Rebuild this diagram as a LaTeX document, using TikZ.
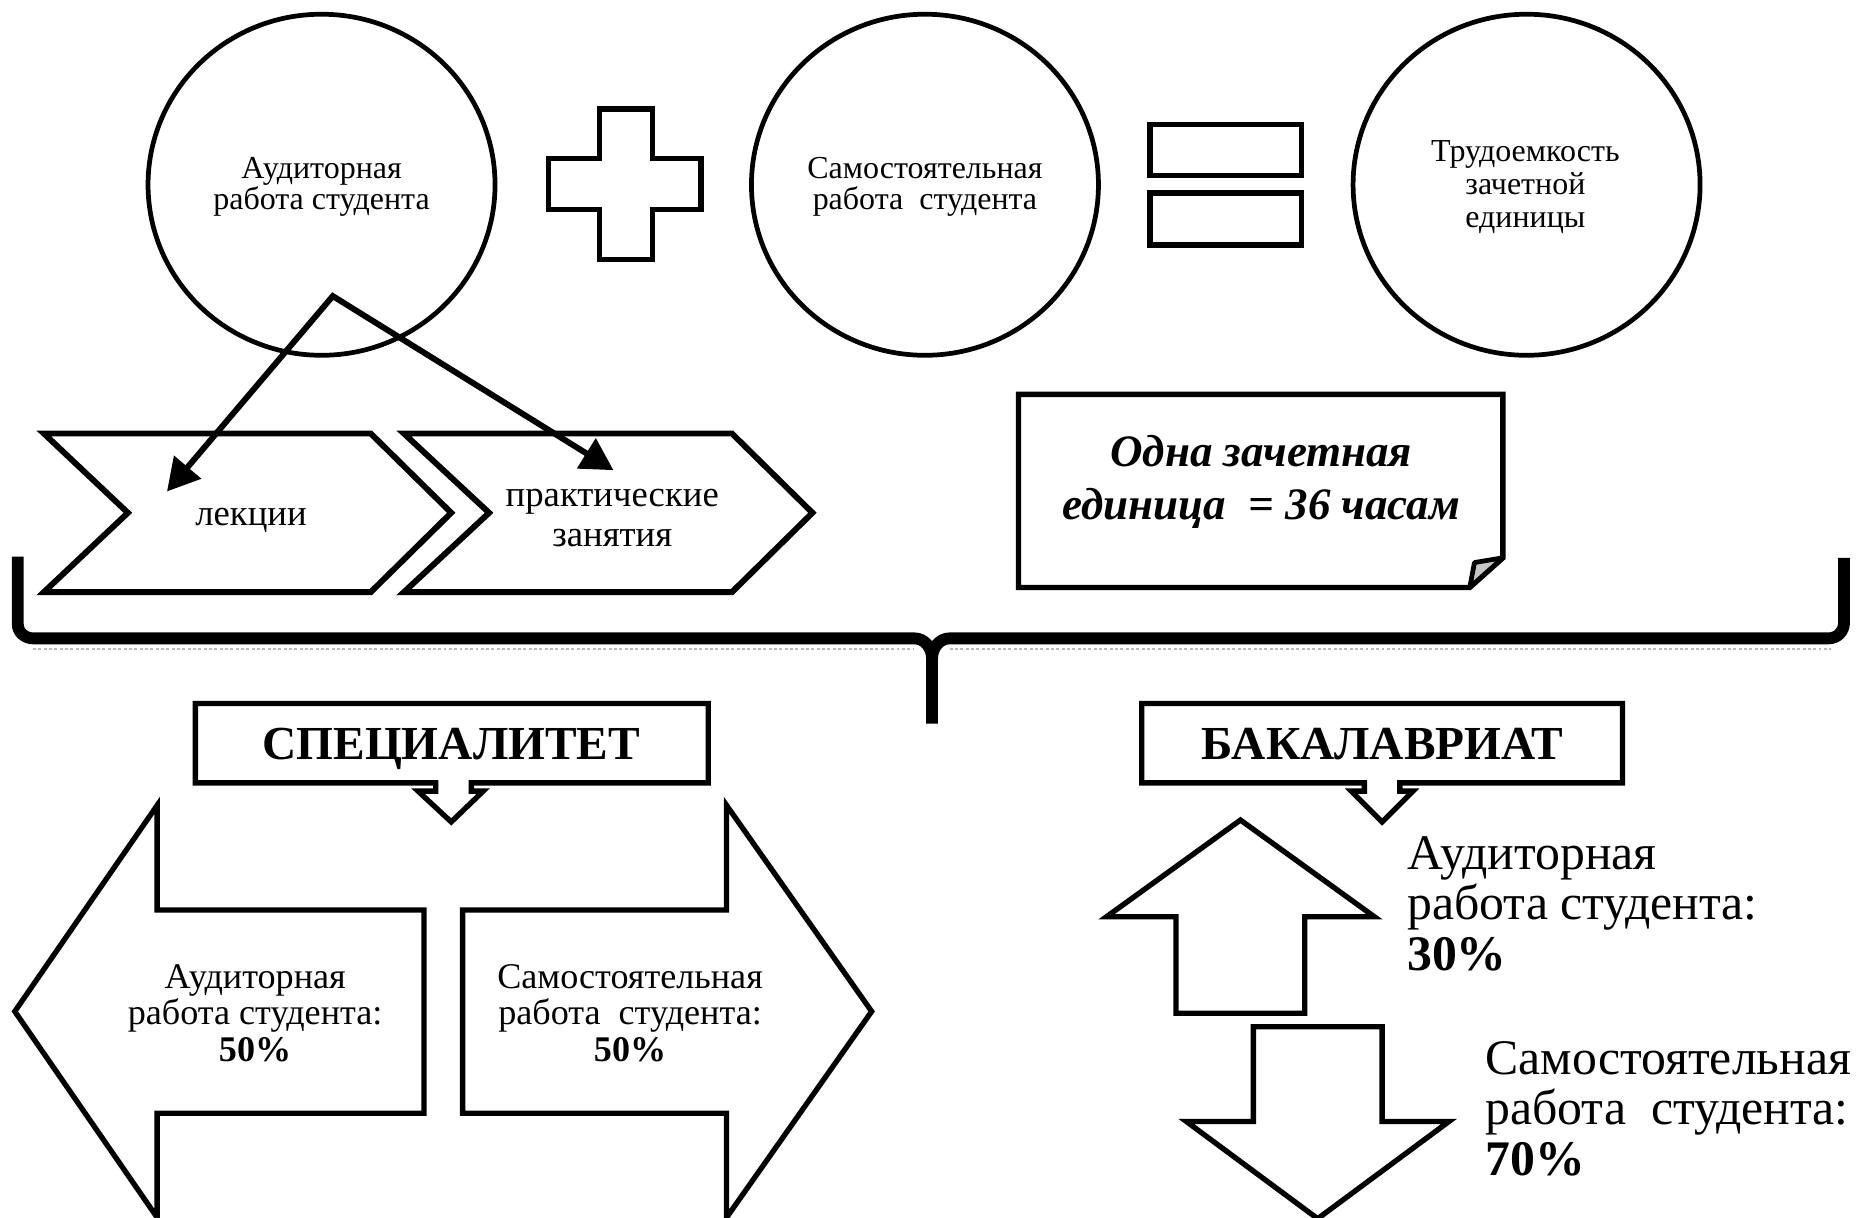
\documentclass[tikz,border=0pt]{standalone}
\usepackage{fontspec}
\setmainfont{Liberation Serif}
\usetikzlibrary{shapes.geometric,arrows.meta}
\begin{document}
\begin{tikzpicture}[x=1pt,y=-1pt,
  outl/.style={draw=black, line width=4.5pt, line join=miter, fill=white},
  circ/.style={draw, ellipse, line width=4pt, minimum width=293pt, minimum height=288pt, inner sep=0pt, align=center, font=\fontsize{27}{26.5}\selectfont},
  chevtext/.style={inner sep=0pt, align=center, font=\fontsize{31}{34}\selectfont},
  notetext/.style={inner sep=0pt, align=center, font=\fontsize{38}{45}\selectfont\bfseries\itshape},
  hdr/.style={inner sep=0pt, anchor=base, font=\fontsize{40}{42}\selectfont\bfseries},
  spectext/.style={inner sep=0pt, align=center, font=\fontsize{30.5}{31}\selectfont},
  bachtext/.style={inner sep=0pt, align=left, anchor=west, font=\fontsize{42}{42.5}\selectfont},
  conn/.style={line width=5pt, line join=miter, {Triangle[length=27pt,width=29pt]}-{Triangle[length=27pt,width=29pt]}},
  brace/.style={line width=10pt, line join=round}
]
\useasboundingbox (0,0) rectangle (1568,1028);
\fill[white] (0,0) rectangle (1568,1028);

% top row
\node[circ] (c1) at (271.5,156) {};
\node[circ, draw=none] (c1t) at (271.5,158) {Аудиторная\\работа студента};
\node[circ] (c2) at (781,156) {};
\node[circ, draw=none] (c2t) at (781,158) {Самостоятельная\\работа\ \ студента};
\node[circ] (c3) at (1289,156) {};
\node[circ, draw=none, font=\fontsize{27}{27.5}\selectfont] (c3t) at (1288,158) {Трудоемкость\\зачетной\\единицы};

% plus
\draw[outl] (506,92) -- (551,92) -- (551,134) -- (592,134) -- (592,177) -- (551,177) -- (551,219) -- (506,219) -- (506,177) -- (463,177) -- (463,134) -- (506,134) -- cycle;
% equals
\draw[outl] (971,105) rectangle (1099,148);
\draw[outl] (971,163) rectangle (1099,207);

% chevrons
\draw[outl, line width=5pt] (37,366) -- (313,366) -- (381,433) -- (313,500) -- (37,500) -- (108,433) -- cycle;
\draw[outl, line width=5pt] (341,366) -- (618,366) -- (686,433) -- (618,500) -- (341,500) -- (413,433) -- cycle;
\node[chevtext] (lek) at (212,439) {лекции};
\node[chevtext] (prak) at (517,437.5) {практические\\занятия};

% connectors from circle
\coordinate (apex) at (281,250);
\coordinate (tipL) at (141,415);
\coordinate (tipR) at (518,397);
\draw[conn] (tipL) -- (apex) -- (tipR);

% note
\draw[outl] (860,333) -- (1269,333) -- (1269,471) -- (1241,496) -- (860,496) -- cycle;
\draw[line width=4pt, fill=gray!45, line join=round] (1241,496) -- (1245,475) -- (1269,471) -- cycle;
\node[notetext] (note) at (1065,407) {Одна зачетная\\единица \ = 36 часам};

% brace
\draw[gray!55, line width=2.5pt, dotted] (28,548) -- (772,548);
\draw[gray!55, line width=2.5pt, dotted] (802,548) -- (1546,548);
\draw[brace] (15,470) -- (15,527) to[out=-90,in=180] (28,539) -- (772,539) to[out=0,in=90] (787,556) -- (787,611);
\draw[brace] (787,556) to[out=90,in=180] (802,539) -- (1544,539) to[out=0,in=-90] (1557,526) -- (1557,471);

% headers
\draw[outl] (165,594) -- (598,594) -- (598,661) -- (398,661) -- (398,668) -- (408,668) -- (381,694) -- (353,668) -- (368,668) -- (368,661) -- (165,661) -- cycle;
\node[hdr] (spec) at (381,641) {СПЕЦИАЛИТЕТ};
\draw[outl] (964,594) -- (1370,594) -- (1370,661) -- (1182,661) -- (1182,668) -- (1193,668) -- (1167,694) -- (1141,668) -- (1152,668) -- (1152,661) -- (964,661) -- cycle;
\node[hdr] (bak) at (1167,641) {БАКАЛАВРИАТ};

% specialitet arrows
\draw[outl] (12.5,854) -- (132.7,680) -- (132.7,768.4) -- (358,768.4) -- (358,940) -- (132.7,940) -- (132.7,1028) -- cycle;
\draw[outl] (736,854) -- (613.5,680) -- (613.5,768.4) -- (390.6,768.4) -- (390.6,940) -- (613.5,940) -- (613.5,1028) -- cycle;
\node[spectext] (sa) at (215.4,855.5) {Аудиторная\\работа студента:\\\textbf{50\%}};
\node[spectext] (ss) at (532,855.5) {Самостоятельная\\работа\ \ студента:\\\textbf{50\%}};

% bachelor arrows
\draw[outl] (1047.4,692.4) -- (1160.4,774) -- (1101.7,774) -- (1101.7,855.6) -- (993,855.6) -- (993,774) -- (934.4,774) -- cycle;
\draw[outl] (1058.3,867) -- (1167,867) -- (1167,947) -- (1223.4,947) -- (1112.6,1029) -- (1001.8,947) -- (1058.3,947) -- cycle;
\node[bachtext] (ba) at (1188,763) {Аудиторная\\работа студента:\\\textbf{30\%}};
\node[bachtext] (bs) at (1254,936) {Самостоятельная\\работа\ \ студента:\\\textbf{70\%}};
\end{tikzpicture}
\end{document}
